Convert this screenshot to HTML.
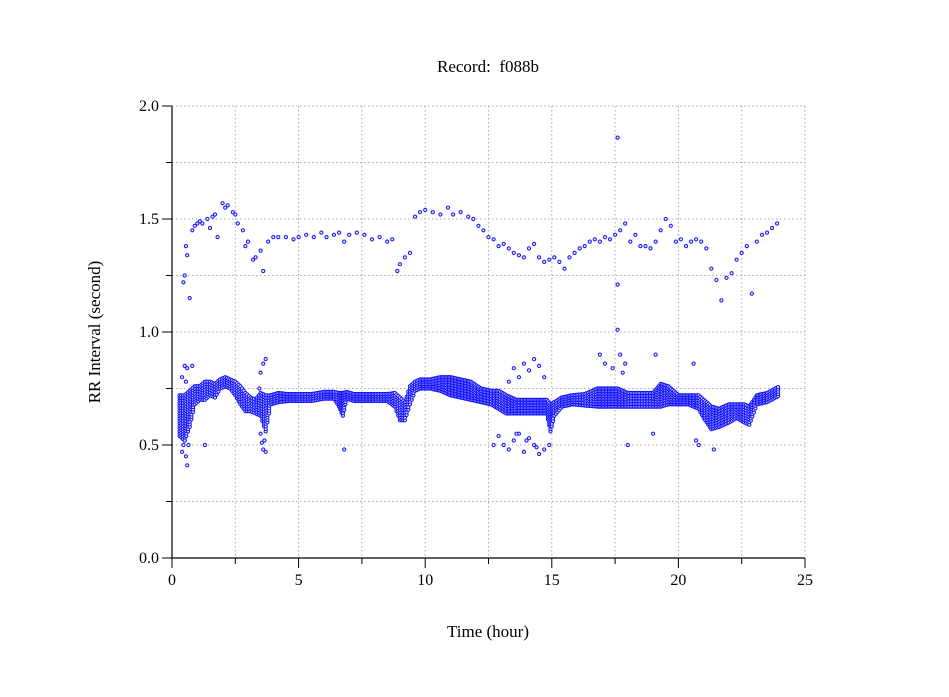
<!DOCTYPE html>
<html><head><meta charset="utf-8"><style>
body{margin:0;background:#fff;}
svg{display:block;font-family:"Liberation Serif",serif;}
</style></head><body>
<svg id="chart" width="949" height="697" viewBox="0 0 949 697">
<rect width="949" height="697" fill="#fff"/>
<text x="488" y="72" font-size="17" text-anchor="middle">Record:&#160; f088b</text>
<text x="488" y="637" font-size="17" text-anchor="middle">Time (hour)</text>
<text transform="translate(100,332) rotate(-90)" font-size="17" text-anchor="middle">RR Interval (second)</text>
<g id="grid"></g>
<g id="axes"></g>
<g id="marks"></g>
</svg>
<script>
const xTicks=[0,5,10,15,20,25];
const yTicks=[0.0,0.5,1.0,1.5,2.0];
const yTickLabels=["0.0","0.5","1.0","1.5","2.0"];
// main band: hour, center RR, half-spread
const bandHours=[0.3,0.5,0.7,0.9,1.1,1.3,1.5,1.7,1.9,2.1,2.3,2.5,2.7,2.9,3.1,3.3,3.5,3.7,3.9,4.2,4.6,5,5.5,6,6.4,6.6,6.75,6.9,7.2,7.6,8,8.5,8.8,9.0,9.2,9.4,9.6,9.8,10.2,10.6,11,11.4,11.8,12.2,12.6,12.9,13.2,13.6,14,14.4,14.8,14.95,15.1,15.4,15.8,16.3,16.8,17.2,17.6,18,18.5,19,19.3,19.6,20,20.4,20.8,21.0,21.3,21.6,22,22.3,22.6,22.8,23.1,23.5,24.0];
const bandCenter=[0.63,0.62,0.66,0.72,0.73,0.74,0.75,0.74,0.77,0.78,0.77,0.75,0.72,0.69,0.68,0.67,0.68,0.64,0.70,0.71,0.71,0.71,0.71,0.72,0.72,0.70,0.68,0.72,0.71,0.71,0.71,0.71,0.70,0.66,0.65,0.72,0.76,0.77,0.77,0.77,0.76,0.75,0.74,0.72,0.71,0.70,0.68,0.67,0.67,0.67,0.67,0.62,0.66,0.69,0.70,0.70,0.71,0.71,0.71,0.70,0.70,0.70,0.72,0.72,0.70,0.70,0.69,0.66,0.62,0.62,0.64,0.65,0.64,0.63,0.70,0.71,0.74];
const bandSpread=[0.09,0.1,0.08,0.04,0.03,0.04,0.03,0.03,0.02,0.02,0.02,0.03,0.04,0.04,0.03,0.03,0.05,0.08,0.02,0.02,0.015,0.015,0.015,0.015,0.015,0.03,0.05,0.015,0.015,0.015,0.015,0.015,0.03,0.05,0.04,0.04,0.02,0.02,0.02,0.03,0.04,0.04,0.04,0.03,0.03,0.04,0.04,0.03,0.03,0.03,0.03,0.06,0.03,0.02,0.02,0.025,0.04,0.04,0.04,0.03,0.03,0.03,0.05,0.04,0.02,0.02,0.03,0.04,0.05,0.04,0.04,0.03,0.04,0.04,0.02,0.02,0.02];
// sparse upper cluster and outliers: [hour, RR]
const upperHours=[0.45,0.5,0.55,0.6,0.7,0.8,0.9,1.0,1.1,1.2,1.4,1.5,1.6,1.7,1.8,2.0,2.1,2.2,2.4,2.5,2.6,2.8,2.9,3.0,3.2,3.3,3.5,3.6,3.8,4.0,4.2,4.5,4.8,5.0,5.3,5.6,5.9,6.1,6.4,6.6,6.8,7.0,7.3,7.6,7.9,8.2,8.5,8.7,8.9,9.0,9.2,9.4,9.6,9.8,10.0,10.3,10.6,10.9,11.1,11.4,11.7,11.9,12.1,12.3,12.5,12.7,12.9,13.1,13.3,13.5,13.7,13.9,14.1,14.3,14.5,14.7,14.9,15.1,15.3,15.5,15.7,15.9,16.1,16.3,16.5,16.7,16.9,17.1,17.3,17.5,17.7,17.9,18.1,18.3,18.5,18.7,18.9,19.1,19.3,19.5,19.7,19.9,20.1,20.3,20.5,20.7,20.9,21.1,21.3,21.5,21.7,21.9,22.1,22.3,22.5,22.7,22.9,23.1,23.3,23.5,23.7,23.9,17.6,17.6,17.6];
const upperValues=[1.22,1.25,1.38,1.34,1.15,1.45,1.47,1.48,1.49,1.48,1.50,1.46,1.51,1.52,1.42,1.57,1.55,1.56,1.53,1.52,1.48,1.45,1.38,1.40,1.32,1.33,1.36,1.27,1.40,1.42,1.42,1.42,1.41,1.42,1.43,1.42,1.44,1.42,1.43,1.44,1.40,1.43,1.44,1.43,1.41,1.42,1.40,1.41,1.27,1.30,1.33,1.35,1.51,1.53,1.54,1.53,1.52,1.55,1.52,1.53,1.51,1.50,1.47,1.45,1.42,1.41,1.38,1.39,1.37,1.35,1.34,1.33,1.37,1.39,1.33,1.31,1.32,1.33,1.31,1.28,1.33,1.35,1.37,1.38,1.40,1.41,1.40,1.42,1.41,1.43,1.45,1.48,1.40,1.43,1.38,1.38,1.37,1.40,1.45,1.50,1.47,1.40,1.41,1.38,1.40,1.41,1.40,1.37,1.28,1.23,1.14,1.24,1.26,1.32,1.35,1.38,1.17,1.40,1.43,1.44,1.46,1.48,1.86,1.21,1.01];
const outlierHours=[0.4,0.45,0.5,0.55,0.6,0.65,0.4,0.5,0.55,0.6,0.8,1.3,3.45,3.5,3.55,3.6,3.7,3.5,3.6,3.7,3.65,6.8,12.7,12.9,13.1,13.3,13.5,13.7,13.9,14.1,14.3,14.5,14.7,14.9,13.3,13.5,13.7,13.9,14.1,14.3,14.5,14.7,13.6,14.0,14.4,16.9,17.1,17.4,17.7,17.8,17.9,19.1,20.6,20.7,20.8,21.4,19.0,18.0];
const outlierValues=[0.47,0.50,0.52,0.45,0.41,0.50,0.80,0.85,0.78,0.84,0.85,0.50,0.75,0.82,0.51,0.48,0.47,0.55,0.86,0.88,0.52,0.48,0.50,0.54,0.50,0.48,0.52,0.55,0.47,0.53,0.50,0.46,0.48,0.50,0.78,0.84,0.80,0.86,0.83,0.88,0.85,0.80,0.55,0.52,0.49,0.90,0.86,0.84,0.90,0.82,0.86,0.90,0.86,0.52,0.50,0.48,0.55,0.50];

const NS="http://www.w3.org/2000/svg";
const X0=172,X1=805,Y0=558,Y1=106;
const xs=h=>X0+(h/25)*(X1-X0);
const ys=v=>Y0-(v/2)*(Y0-Y1);
const grid=document.getElementById('grid'),axes=document.getElementById('axes'),marks=document.getElementById('marks');
function mk(tag,attrs,parent){const e=document.createElementNS(NS,tag);for(const k in attrs)e.setAttribute(k,attrs[k]);parent.appendChild(e);return e;}
for(let h=2.5;h<=25;h+=2.5){
  const g=mk('line',{x1:xs(h),x2:xs(h),y1:Y1,y2:Y0,stroke:'#aaa','stroke-dasharray':'1.5,2.5','stroke-width':1},grid);
  
  
}
for(let v=0.25;v<=2.0001;v+=0.25){
  const g=mk('line',{x1:X0,x2:X1,y1:ys(v),y2:ys(v),stroke:'#aaa','stroke-dasharray':'1.5,2.5','stroke-width':1},grid);
  
  
}
mk('line',{x1:X0,x2:X1,y1:Y0,y2:Y0,stroke:'#000','stroke-width':1.2},axes);
mk('line',{x1:X0,x2:X0,y1:Y0,y2:Y1,stroke:'#000','stroke-width':1.2},axes);
for(let h=0;h<25;h+=2.5){
  const major=(h%5===0);
  mk('line',{x1:xs(h),x2:xs(h),y1:Y0,y2:Y0+(major?10:6),stroke:'#000','stroke-width':1},axes);
}
mk('line',{x1:xs(25),x2:xs(25),y1:Y0,y2:Y0+10,stroke:'#000'},axes);
for(let v=0;v<=2.0001;v+=0.25){
  const major=(Math.round(v*4)%2===0);
  mk('line',{x1:X0-(major?10:6),x2:X0,y1:ys(v),y2:ys(v),stroke:'#000','stroke-width':1},axes);
}
xTicks.forEach(t=>{
  const e=mk('text',{x:xs(t),y:Y0+27,'font-size':16,'text-anchor':'middle'},axes);e.textContent=t;
  
  
});
yTicks.forEach((t,i)=>{
  const e=mk('text',{x:X0-13,y:ys(t)+5,'font-size':16,'text-anchor':'end'},axes);e.textContent=yTickLabels[i];
  
  
});
function dot(h,v,name){
  const c=mk('circle',{cx:xs(h).toFixed(1),cy:ys(v).toFixed(1),r:1.6,fill:'#e8e8ff',stroke:'#1010ff','stroke-width':1},marks);
  
  
}
for(let i=0;i<bandHours.length-1;i++){
  const h0=bandHours[i],h1=bandHours[i+1];
  const steps=Math.max(1,Math.round((xs(h1)-xs(h0))/1.5));
  for(let s=0;s<steps;s++){
    const f=s/steps,h=h0+(h1-h0)*f;
    const c=bandCenter[i]+(bandCenter[i+1]-bandCenter[i])*f;
    const sp=bandSpread[i]+(bandSpread[i+1]-bandSpread[i])*f;
    const n=Math.max(1,Math.round(sp*2*226/2.5));
    for(let k=0;k<=n;k++){dot(h,c-sp+(2*sp)*k/n,'band-point');}
  }
}
upperHours.forEach((h,i)=>dot(h,upperValues[i],'upper-point'));
outlierHours.forEach((h,i)=>dot(h,outlierValues[i],'outlier-point'));
</script>
</body></html>
